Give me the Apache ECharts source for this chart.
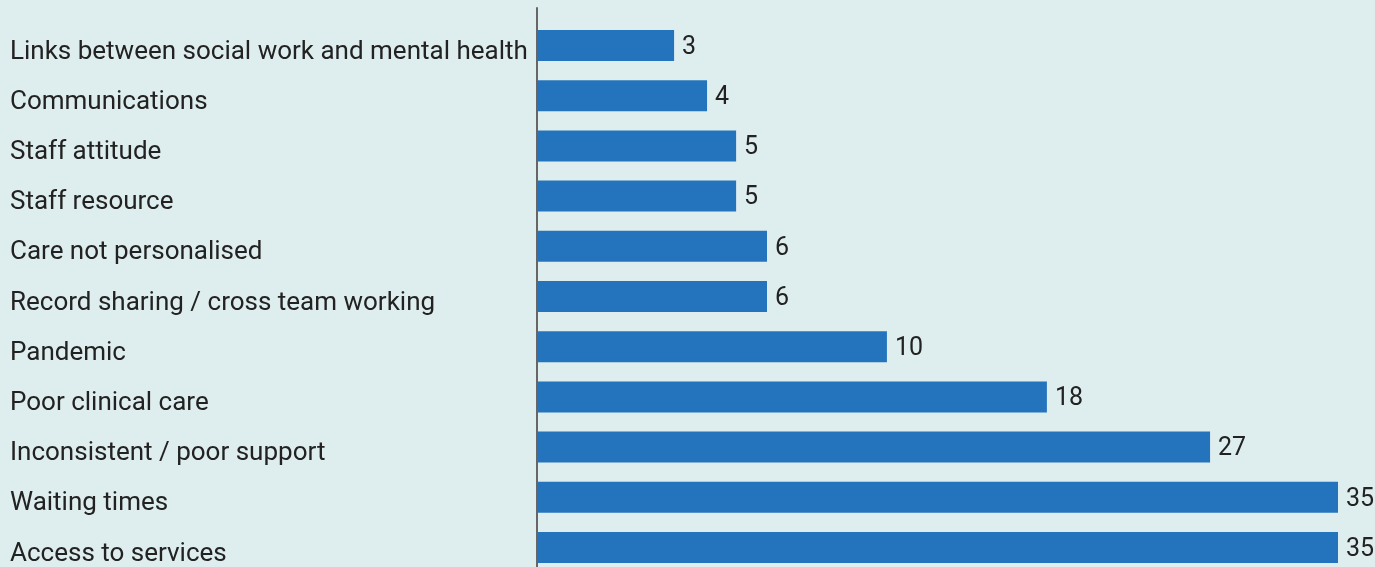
<!DOCTYPE html>
<html>
<head>
<meta charset="utf-8">
<script src="https://cdn.jsdelivr.net/npm/echarts@6/dist/echarts.min.js"></script>
<style>
html,body{margin:0;padding:0;background:#deeded;}
#chart{width:1375px;height:567px;}
</style>
</head>
<body>
<div id="chart"></div>
<script>
// Categories, top to bottom
const categories = [
  "Links between social work and mental health",
  "Communications",
  "Staff attitude",
  "Staff resource",
  "Care not personalised",
  "Record sharing / cross team working",
  "Pandemic",
  "Poor clinical care",
  "Inconsistent / poor support",
  "Waiting times",
  "Access to services"
];
// Numbers printed beside each bar
const valueLabels = [3, 4, 5, 5, 6, 6, 10, 18, 27, 35, 35];
// Bar extents as drawn in the picture (on a scale where the longest bar = 35)
const barLengths = [5.99, 7.43, 8.7, 8.7, 10.05, 10.05, 15.29, 22.28, 29.41, 35, 35];
const axisMax = 35;

const chart = echarts.init(document.getElementById('chart'));
const fontFamily = 'Roboto, "Noto Sans", sans-serif';
chart.setOption({
  backgroundColor: '#deeded',
  animation: false,
  grid: [
    {left: 537, right: 37, top: 20.4, height: 552.2, containLabel: false, outerBoundsMode: 'none'},
    {left: 537, right: 37, top: 8, height: 559, containLabel: false, outerBoundsMode: 'none'}
  ],
  xAxis: [
    {gridIndex: 0, type: 'value', min: 0, max: axisMax, show: false},
    {gridIndex: 1, type: 'value', min: 0, max: axisMax, show: false}
  ],
  yAxis: [
    {
      gridIndex: 0, type: 'category', data: categories, inverse: true,
      axisLine: {show: false}, axisTick: {show: false}, splitLine: {show: false},
      axisLabel: {
        align: 'left', verticalAlign: 'top', lineHeight: 13, margin: 527,
        color: '#222', fontSize: 26, fontFamily: fontFamily
      }
    },
    {
      gridIndex: 1, type: 'category', data: [''],
      axisLine: {show: true, lineStyle: {color: '#666', width: 2}},
      axisTick: {show: false}, axisLabel: {show: false}, splitLine: {show: false}
    }
  ],
  series: [{
    type: 'bar',
    xAxisIndex: 0, yAxisIndex: 0,
    data: barLengths,
    barWidth: 31,
    itemStyle: {color: '#2474bd'},
    label: {
      show: true, position: 'right', distance: 8, offset: [0, 2],
      color: '#222', fontSize: 25, fontFamily: fontFamily,
      formatter: p => String(valueLabels[p.dataIndex])
    }
  }]
});
</script>
</body>
</html>
